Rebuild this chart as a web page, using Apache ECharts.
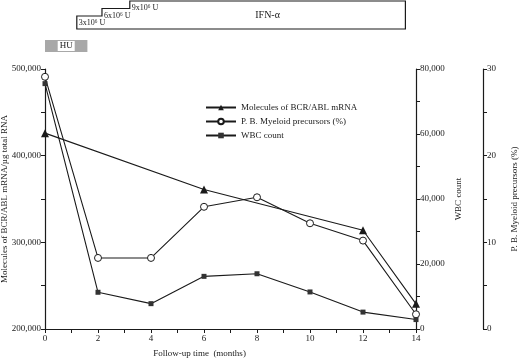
<!DOCTYPE html>
<html>
<head>
<meta charset="utf-8">
<script src="https://cdn.jsdelivr.net/npm/echarts@6/dist/echarts.min.js"></script>
<style>
  html, body { margin: 0; padding: 0; background: #fff; }
  #chart { width: 520px; height: 360px; }
</style>
</head>
<body>
<div id="chart"></div>
<script>
// follow-up months
const months = [0, 2, 4, 6, 8, 10, 12, 14]
const bcrMonths = [0, 6, 12, 14]
// molecules of BCR/ABL mRNA per µg total RNA
const bcrAbl = [426000, 361000, 314000, 229000]
// peripheral blood myeloid precursors (%)
const myeloid = [29.1, 8.2, 8.2, 14.1, 15.2, 12.2, 10.2, 1.7]
// white blood cell count
const wbc = [75500, 11300, 7800, 16200, 17000, 11400, 5200, 2900]

// treatment bars above the chart (months)
const huPeriod = [0, 1.6]
const ifnStarts = [1.2, 2.15, 3.2]
const ifnDoses = ['3x10⁶ U', '6x10⁶ U', '9x10⁶ U']
const ifnEnd = 13.6

const serif = '"Liberation Serif", "DejaVu Serif", serif'
const ink = '#1a1a1a'

const chart = echarts.init(document.getElementById('chart'))

const axisCommon = {
  axisLine: { show: true, lineStyle: { color: ink, width: 1.2 } },
  axisTick: { show: true, length: 4, lineStyle: { color: ink } },
  splitLine: { show: false },
  nameLocation: 'middle',
  nameMoveOverlap: false,
  nameTextStyle: { fontFamily: serif, fontSize: 9, color: ink },
  axisLabel: { fontFamily: serif, fontSize: 9, color: ink, margin: 4 }
}

const fmt = (v) => v.toLocaleString('en-US')

const option = {
  animation: false,
  grid: { left: 45, right: 104, top: 69, bottom: 31, containLabel: false, outerBoundsMode: 'none' },
  legend: {
    orient: 'vertical',
    left: 200,
    top: 98,
    itemWidth: 30,
    itemHeight: 7,
    itemGap: 5,
    textStyle: { fontFamily: serif, fontSize: 9, color: ink },
    data: ['Molecules of BCR/ABL mRNA', 'P. B. Myeloid precursors (%)', 'WBC count']
  },
  xAxis: {
    ...axisCommon,
    type: 'value',
    min: 0,
    max: 14,
    interval: 1,
    name: 'Follow-up time  (months)',
    nameGap: 20,
    nameTextStyle: { ...axisCommon.nameTextStyle, padding: [0, 62, 0, 0] },
    axisLabel: {
      ...axisCommon.axisLabel,
      margin: 5,
      formatter: (v) => (v % 2 === 0 ? String(v) : '')
    }
  },
  yAxis: [
    {
      ...axisCommon,
      type: 'value',
      position: 'left',
      min: 200000,
      max: 500000,
      interval: 50000,
      name: 'Molecules of BCR/ABL mRNA/µg total RNA',
      nameGap: 36,
      axisLabel: {
        ...axisCommon.axisLabel,
        formatter: (v) => (v % 100000 === 0 ? fmt(v) : '')
      }
    },
    {
      ...axisCommon,
      type: 'value',
      position: 'right',
      min: 0,
      max: 80000,
      interval: 10000,
      name: 'WBC count',
      nameGap: 38,
      axisLabel: {
        ...axisCommon.axisLabel,
        formatter: (v) => (v % 20000 === 0 ? fmt(v) : '')
      }
    },
    {
      ...axisCommon,
      type: 'value',
      position: 'right',
      offset: 67,
      min: 0,
      max: 30,
      interval: 5,
      name: 'P. B. Myeloid precursors (%)',
      nameGap: 27,
      axisLabel: {
        ...axisCommon.axisLabel,
        formatter: (v) => (v % 10 === 0 ? String(v) : '')
      }
    }
  ],
  series: [
    {
      name: 'Molecules of BCR/ABL mRNA',
      type: 'line',
      yAxisIndex: 0,
      data: bcrMonths.map((m, i) => [m, bcrAbl[i]]),
      symbol: 'triangle',
      symbolSize: 8,
      lineStyle: { color: ink, width: 1.1 },
      itemStyle: { color: ink }
    },
    {
      name: 'P. B. Myeloid precursors (%)',
      type: 'line',
      yAxisIndex: 2,
      data: months.map((m, i) => [m, myeloid[i]]),
      symbol: 'circle',
      symbolSize: 7,
      lineStyle: { color: ink, width: 1.1 },
      itemStyle: { color: '#fff', borderColor: ink, borderWidth: 1 }
    },
    {
      name: 'WBC count',
      type: 'line',
      yAxisIndex: 1,
      data: months.map((m, i) => [m, wbc[i]]),
      symbol: 'rect',
      symbolSize: 5,
      lineStyle: { color: ink, width: 1.1 },
      itemStyle: { color: '#333' }
    }
  ]
}

chart.setOption(option)

// treatment schedule drawn above the plot, positioned from the month scale
const px = (m) => chart.convertToPixel({ xAxisIndex: 0 }, m)

const drawSchedule = () => {
  const stepY = [16, 8.5, 1]
  const baseY = 29
  const xs = ifnStarts.map(px)
  const xe = px(ifnEnd)
  const pts = [[xs[0], baseY]]
  xs.forEach((x, i) => {
    pts.push([x, stepY[i]])
    pts.push([i + 1 < xs.length ? xs[i + 1] : xe, stepY[i]])
  })
  pts.push([xe, baseY])

  const graphic = [
    {
      type: 'polygon',
      shape: { points: pts },
      style: { fill: '#fff', stroke: ink, lineWidth: 1.2 }
    },
    {
      type: 'text',
      x: (xs[2] + xe) / 2,
      y: 15,
      style: { text: 'IFN-α', font: '10px ' + serif, fill: ink, align: 'center', verticalAlign: 'middle' }
    },
    {
      type: 'rect',
      shape: { x: px(huPeriod[0]), y: 40, width: px(huPeriod[1]) - px(huPeriod[0]), height: 12 },
      style: { fill: '#a8a8a8' }
    },
    {
      type: 'text',
      x: (px(huPeriod[0]) + px(huPeriod[1])) / 2,
      y: 46,
      style: {
        text: 'HU', font: '9px ' + serif, fill: ink, align: 'center', verticalAlign: 'middle',
        backgroundColor: '#fff', padding: [1, 2, 0, 2]
      }
    }
  ]
  ifnDoses.forEach((d, i) => {
    graphic.push({
      type: 'text',
      x: xs[i] + 2,
      y: stepY[i] + 7,
      style: { text: d, font: '8px ' + serif, fill: ink, align: 'left', verticalAlign: 'middle' }
    })
  })
  chart.setOption({ graphic })
}

drawSchedule()
</script>
</body>
</html>
